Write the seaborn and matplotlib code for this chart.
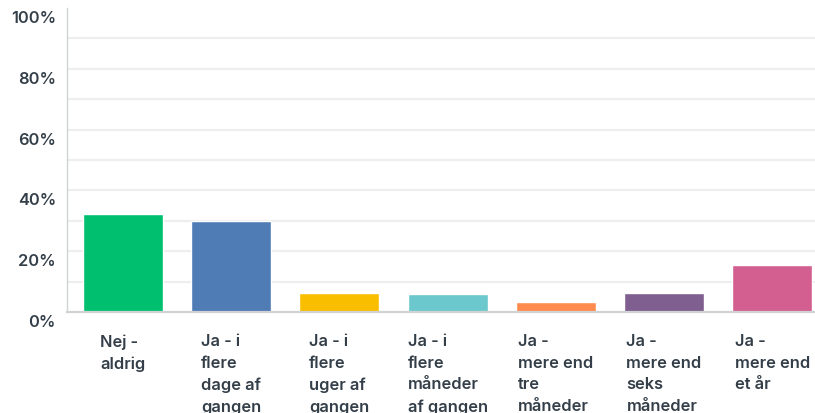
import matplotlib
matplotlib.use("Agg")
import matplotlib.pyplot as plt
import matplotlib.transforms as mtrans
import seaborn as sns
import pandas as pd

categories = [
    "Nej -\naldrig",
    "Ja - i\nflere\ndage af\ngangen",
    "Ja - i\nflere\nuger af\ngangen",
    "Ja - i\nflere\nmåneder\naf gangen",
    "Ja -\nmere end\ntre\nmåneder",
    "Ja -\nmere end\nseks\nmåneder",
    "Ja -\nmere end\net år",
]
values = [32.2, 29.9, 6.2, 5.9, 3.3, 6.2, 15.5]
colors = ["#00BF6F", "#507CB6", "#F9BE00", "#6BC8CD", "#FF8B4F", "#7F5F90", "#D25F90"]
y_ticks = [0, 20, 40, 60, 80, 100]
y_tick_labels = ["0%", "20%", "40%", "60%", "80%", "100%"]
grid_levels = [10, 20, 30, 40, 50, 60, 70, 80, 90]

sns.set_theme(style="white")
plt.rcParams["font.family"] = ["Inter", "DejaVu Sans"]

text_color = "#333E48"
W, H = 815, 413
fig = plt.figure(figsize=(W / 100, H / 100), dpi=100)
ax = fig.add_axes([67 / W, (H - 312) / H, (W - 67) / W, (312 - 8) / H])

df = pd.DataFrame({"cat": categories, "val": values})
sns.barplot(data=df, x="cat", y="val", hue="cat", palette=colors, legend=False,
            width=0.74, saturation=1, ax=ax, zorder=3)

ax.set_xlim(-0.518, 6.395)
ax.set_ylim(0, 100)
for g in grid_levels:
    ax.axhline(g, color="#EDEEEF", lw=1.6, zorder=1)

ax.set_yticks(y_ticks)
ax.set_yticklabels(y_tick_labels)
ax.tick_params(axis="y", length=0, pad=8, labelsize=11.8, colors=text_color)
ax.tick_params(axis="x", length=0, pad=16, labelsize=11.8, colors=text_color)
ax.set_xlabel("")
ax.set_ylabel("")

off = mtrans.ScaledTranslation(0, -9 / 100, fig.dpi_scale_trans)
for lab in ax.get_yticklabels():
    lab.set_transform(lab.get_transform() + off)
    lab.set_fontweight(600)
for lab in ax.get_xticklabels():
    lab.set_multialignment("left")
    lab.set_va("top")
    lab.set_linespacing(1.55)
    lab.set_fontweight(600)

for s in ["top", "right"]:
    ax.spines[s].set_visible(False)
ax.spines["left"].set_color("#D0D2D3")
ax.spines["left"].set_linewidth(1.0)
ax.spines["bottom"].set_color("#D0D2D3")
ax.spines["bottom"].set_linewidth(1.6)
ax.spines["bottom"].set_zorder(4)

fig.savefig("out.png", dpi=100)
